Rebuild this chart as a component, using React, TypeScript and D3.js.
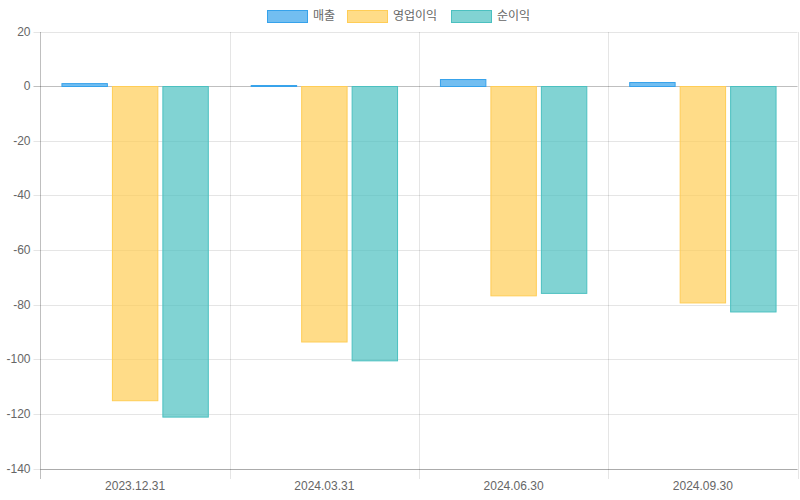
import React from "react";
import * as d3 from "d3";

const categories = ["2023.12.31", "2024.03.31", "2024.06.30", "2024.09.30"];
const seriesNames = ["매출", "영업이익", "순이익"];
const sales = [1.1, 0.4, 2.6, 1.5];
const operatingProfit = [-115.0, -93.5, -76.6, -79.2];
const netProfit = [-121.0, -100.4, -75.7, -82.5];
const yTicks = [20, 0, -20, -40, -60, -80, -100, -120, -140];

const fills = ["rgba(54,162,235,0.7)", "rgba(255,205,86,0.7)", "rgba(75,192,192,0.7)"];
const strokes = ["rgb(54,162,235)", "rgb(255,205,86)", "rgb(75,192,192)"];

const W = 800;
const H = 500;
const left = 40.5;
const right = 797.5;
const top = 32;
const bottom = 469;
const FONT = "'Helvetica Neue', Helvetica, Arial, 'Noto Sans CJK KR', sans-serif";

export default function App() {
  const series = [sales, operatingProfit, netProfit];
  const x = d3.scaleBand<string>().domain(categories).range([left, right]).paddingInner(0).paddingOuter(0);
  const y = d3.scaleLinear().domain([-140, 20]).range([bottom, top]);
  const inner = d3
    .scaleBand<number>()
    .domain([0, 1, 2])
    .range([0, x.bandwidth() * 0.8]);
  const barW = inner.bandwidth() * 0.9;
  const py = (v: number) => Math.floor(y(v)) + 0.5;

  const legendItems = [
    { x: 267, tx: 313 },
    { x: 347, tx: 393 },
    { x: 451, tx: 497 },
  ];

  return (
    <svg width={W} height={H} style={{ position: "absolute", left: 0, top: 0 }}>
      <rect width={W} height={H} fill="#fff" />
      {seriesNames.map((n, i) => (
        <g key={n}>
          <rect x={legendItems[i].x + 0.5} y={10.5} width={40} height={12} fill={fills[i]} stroke={strokes[i]} strokeWidth={1} />
          <text x={legendItems[i].tx} y={16.5} dominantBaseline="middle" fontSize={12} fill="#666" fontFamily={FONT}>
            {n}
          </text>
        </g>
      ))}
      {yTicks.map((t) => (
        <g key={t}>
          <line
            x1={left - 7}
            x2={right}
            y1={py(t)}
            y2={py(t)}
            stroke={t === 0 ? "rgba(0,0,0,0.25)" : "rgba(0,0,0,0.1)"}
          />
          <text x={left - 10} y={py(t)} textAnchor="end" dominantBaseline="middle" fontSize={12} fill="#666" fontFamily={FONT}>
            {t}
          </text>
        </g>
      ))}
      {categories.map((c) => (
        <line
          key={c}
          x1={Math.round(x(c)! + x.bandwidth()) + 0.5}
          x2={Math.round(x(c)! + x.bandwidth()) + 0.5}
          y1={top}
          y2={bottom + 10}
          stroke="rgba(0,0,0,0.1)"
        />
      ))}
      <line x1={left} x2={left} y1={top} y2={bottom + 10} stroke="rgba(0,0,0,0.25)" />
      <line x1={left} x2={right} y1={py(-140)} y2={py(-140)} stroke="rgba(0,0,0,0.25)" />
      {categories.map((c, ci) => (
        <g key={c}>
          {series.map((s, si) => {
            const v = s[ci];
            const bx = x(c)! + x.bandwidth() * 0.1 + inner(si)! + (inner.bandwidth() - barW) / 2;
            const y0 = py(0);
            const y1 = y(v);
            return (
              <rect
                key={si}
                x={bx}
                y={Math.min(y0, y1)}
                width={barW}
                height={Math.abs(y1 - y0)}
                fill={fills[si]}
                stroke={strokes[si]}
                strokeWidth={1}
              />
            );
          })}
          <text x={x(c)! + x.bandwidth() / 2} y={486.5} textAnchor="middle" dominantBaseline="middle" fontSize={12} fill="#666" fontFamily={FONT}>
            {c}
          </text>
        </g>
      ))}
    </svg>
  );
}
